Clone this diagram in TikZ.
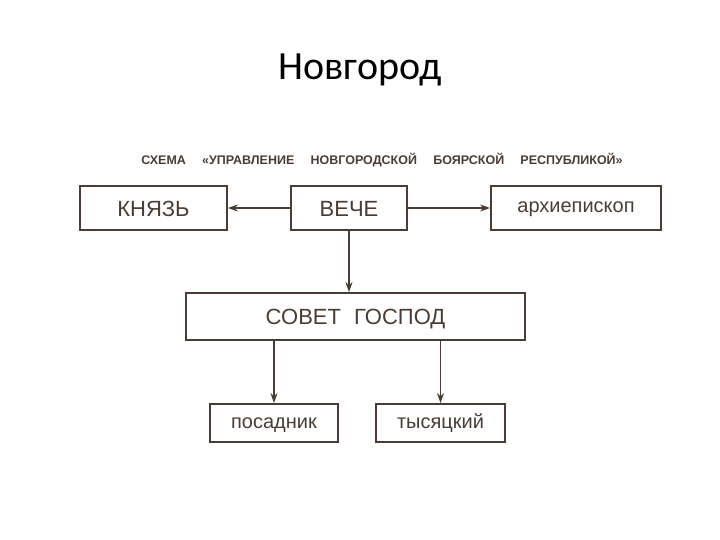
\documentclass[tikz,border=0pt]{standalone}
\usepackage{fontspec}
\setmainfont{Liberation Sans}
\newfontfamily\titlefont{Carlito}
\usetikzlibrary{arrows.meta}
\definecolor{ink}{HTML}{4A3C34}
\begin{document}
\begin{tikzpicture}[x=1pt,y=-1pt,
  bx/.style={draw=ink,line width=1.8pt,inner sep=0pt},
  capt/.style={anchor=base,inner sep=0pt,text=ink,font=\fontsize{22}{22}\selectfont,yshift=-8pt},
  lowt/.style={anchor=base,inner sep=0pt,text=ink,font=\fontsize{20}{20}\selectfont,yshift=-5pt},
  ar/.style={draw=ink,line width=1.6pt,-{Stealth[length=10pt,width=7pt]}}]
\useasboundingbox (0,0) rectangle (720,540);
\node[font=\titlefont\fontsize{40}{40}\selectfont] (t) at (360,70) {Новгород};
\node[text=ink,font=\bfseries\fontsize{12.5}{12.5}\selectfont] (s) at (382,160) {СХЕМА\hspace{1.3em}«УПРАВЛЕНИЕ\hspace{1.3em}НОВГОРОДСКОЙ\hspace{1.3em}БОЯРСКОЙ\hspace{1.3em}РЕСПУБЛИКОЙ»};
\node[bx,minimum width=147pt,minimum height=44pt] (k) at (153.5,208) {};
\node[bx,minimum width=116pt,minimum height=44pt] (v) at (349,208) {};
\node[bx,minimum width=170pt,minimum height=44pt] (a) at (576,208) {};
\node[bx,minimum width=339pt,minimum height=47pt] (s2) at (355.5,316.5) {};
\node[bx,minimum width=128pt,minimum height=38pt] (p) at (274,423) {};
\node[bx,minimum width=129pt,minimum height=38pt] (ty) at (440.5,423) {};
\node[capt] (kt) at (k.center) {КНЯЗЬ};
\node[capt] (vt) at (v.center) {ВЕЧЕ};
\node[lowt] (at) at (a.center) {архиепископ};
\node[capt] (st) at (s2.center) {СОВЕТ\hspace{0.6em}ГОСПОД};
\node[lowt] (pt) at (p.center) {посадник};
\node[lowt] (tt) at (ty.center) {тысяцкий};
\draw[ar] (v) -- (k);
\draw[ar] (v) -- (a);
\draw[ar] (v.south) -- (s2.north -| v.south);
\draw[ar] (s2.south -| p.north) -- (p.north);
\draw[ar] (s2.south -| ty.north) -- (ty.north);
\end{tikzpicture}
\end{document}
